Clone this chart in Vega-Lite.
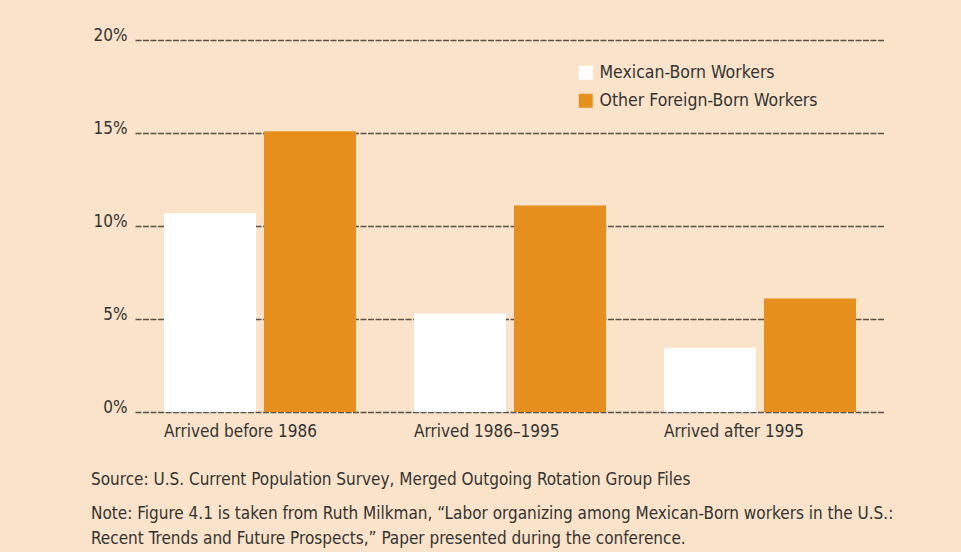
{
  "$schema": "https://vega.github.io/schema/vega-lite/v6.json",
  "autosize": {"type": "none"},
  "width": 750,
  "height": 372,
  "padding": {"left": 135, "top": 40, "right": 76, "bottom": 140},
  "background": "#FAE3C8",
  "config": {
    "font": "DejaVu Sans Condensed, Roboto",
    "view": {"stroke": null},
    "axis": {"labelFont": "DejaVu Sans Condensed, Roboto", "labelColor": "#333333", "labelFontSize": 17},
    "legend": {"labelFont": "DejaVu Sans Condensed, Roboto", "labelColor": "#333333", "labelFontSize": 17.5, "labelLimit": 400}
  },
  "title": {
    "text": "Source: U.S. Current Population Survey, Merged Outgoing Rotation Group Files",
    "subtitle": ["Note: Figure 4.1 is taken from Ruth Milkman, “Labor organizing among Mexican-Born workers in the U.S.:", "Recent Trends and Future Prospects,” Paper presented during the conference."],
    "orient": "bottom",
    "anchor": "start",
    "dx": -2,
    "offset": 33,
    "font": "DejaVu Sans Condensed, Roboto",
    "fontSize": 17,
    "fontWeight": "normal",
    "color": "#333333",
    "subtitleFont": "DejaVu Sans Condensed, Roboto",
    "subtitleFontSize": 17,
    "subtitleColor": "#333333",
    "subtitleLineHeight": 25,
    "subtitlePadding": 17
  },
  "data": {
    "values": [
      {"group": "Arrived before 1986", "series": "Mexican-Born Workers", "value": 10.7},
      {"group": "Arrived before 1986", "series": "Other Foreign-Born Workers", "value": 15.1},
      {"group": "Arrived 1986–1995", "series": "Mexican-Born Workers", "value": 5.3},
      {"group": "Arrived 1986–1995", "series": "Other Foreign-Born Workers", "value": 11.1},
      {"group": "Arrived after 1995", "series": "Mexican-Born Workers", "value": 3.45},
      {"group": "Arrived after 1995", "series": "Other Foreign-Born Workers", "value": 6.1}
    ]
  },
  "mark": {"type": "bar", "strokeWidth": 0},
  "encoding": {
    "x": {
      "field": "group",
      "type": "nominal",
      "sort": ["Arrived before 1986", "Arrived 1986–1995", "Arrived after 1995"],
      "scale": {"paddingInner": 0, "paddingOuter": 0},
      "axis": {"title": null, "ticks": false, "domain": false, "labelAngle": 0, "labelAlign": "left", "labelOffset": -96, "labelPadding": 11, "labelBaseline": "top"}
    },
    "xOffset": {
      "field": "series",
      "type": "nominal",
      "sort": ["Mexican-Born Workers", "Other Foreign-Born Workers"],
      "scale": {"paddingInner": 0.08, "paddingOuter": 0.29}
    },
    "y": {
      "field": "value",
      "type": "quantitative",
      "scale": {"domain": [0, 20], "nice": false},
      "axis": {"title": null, "values": [0, 5, 10, 15, 20], "labelExpr": "datum.value + '%'", "ticks": false, "domain": false, "labelPadding": 8, "labelBaseline": "alphabetic", "labelOffset": 0, "grid": true, "gridColor": "#5a524a", "gridWidth": 1.3, "gridDash": [6, 1.5]}
    },
    "color": {
      "field": "series",
      "type": "nominal",
      "sort": ["Mexican-Born Workers", "Other Foreign-Born Workers"],
      "scale": {"domain": ["Mexican-Born Workers", "Other Foreign-Born Workers"], "range": ["#FFFFFF", "#E68F1C"]},
      "legend": {"title": null, "orient": "none", "legendX": 442, "legendY": 24, "symbolType": "square", "symbolSize": 196, "symbolStrokeWidth": 0, "symbolOpacity": 1, "rowPadding": 9, "labelOffset": 5}
    }
  }
}
